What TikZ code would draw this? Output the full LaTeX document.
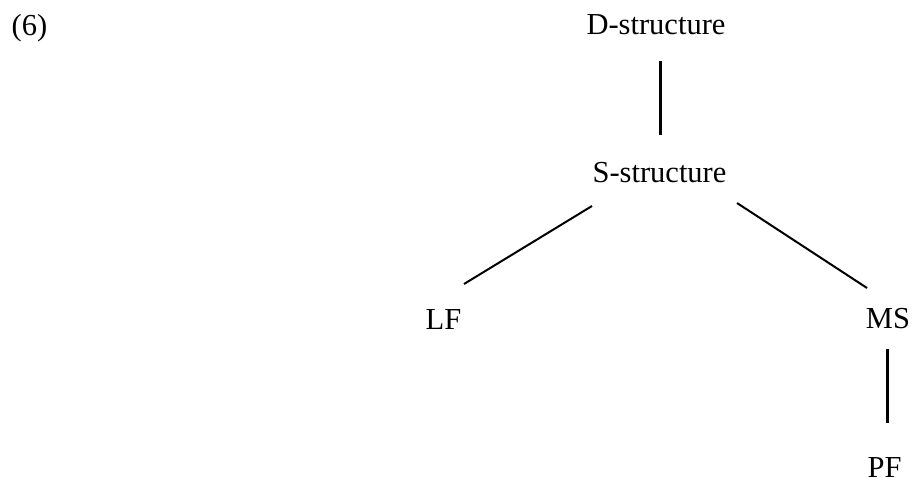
\documentclass[tikz,border=0pt]{standalone}
\usepackage{fontspec}
\setmainfont{Liberation Serif}
\usetikzlibrary{calc}
\begin{document}
\begin{tikzpicture}[x=1pt,y=-1pt,
  lbl/.style={inner sep=0pt,anchor=base,font=\fontsize{30.5}{36}\selectfont},
  vline/.style={line width=3pt},
  dline/.style={line width=2pt}]
\useasboundingbox (0,0) rectangle (912,478);
\node[lbl] (num) at (29.5,36) {(6)};
\node[lbl] (D) at (656,35) {D-structure};
\node[lbl] (S) at (659.5,183) {S-structure};
\node[lbl] (LF) at (443.5,329) {LF};
\node[lbl] (MS) at (888,328) {MS};
\node[lbl] (PF) at (884.5,477) {PF};
\draw[vline] ($(D.base)+(4,26)$) -- ($(S.base)+(0.5,-48)$);
\draw[dline] ($(S.base)+(-67.5,23)$) -- ($(LF.base)+(20.5,-45)$);
\draw[dline] ($(S.base)+(77.5,20)$) -- ($(MS.base)+(-21,-40)$);
\draw[vline] ($(MS.base)+(-1,21)$) -- ($(PF.base)+(2.5,-54)$);
\end{tikzpicture}
\end{document}
